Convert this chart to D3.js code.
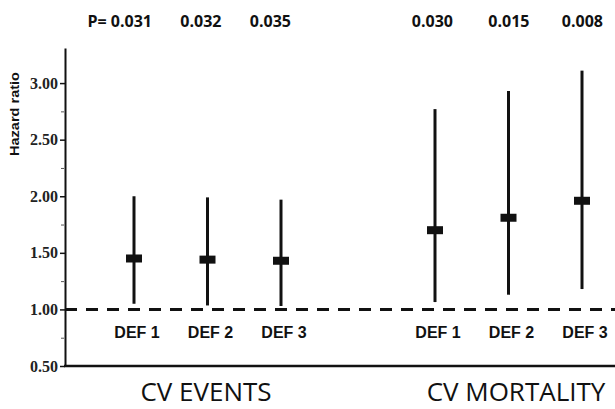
<!DOCTYPE html>
<html>
<head>
<meta charset="utf-8">
<script src="https://cdn.jsdelivr.net/npm/d3@7"></script>
<style>
  html, body { margin: 0; padding: 0; background: #fff; }
  svg { display: block; }
</style>
</head>
<body>
<svg id="chart" width="615" height="409"></svg>
<script>
// ---- data ----
const groups = ["CV EVENTS", "CV MORTALITY"];
const definitions = ["DEF 1", "DEF 2", "DEF 3"];
const hrEvents = [1.45, 1.44, 1.43];
const lowerEvents = [1.05, 1.035, 1.03];
const upperEvents = [2.00, 1.99, 1.97];
const hrMortality = [1.70, 1.81, 1.96];
const lowerMortality = [1.065, 1.13, 1.18];
const upperMortality = [2.77, 2.93, 3.11];
const pEvents = ["P= 0.031", "0.032", "0.035"];
const pMortality = ["0.030", "0.015", "0.008"];
const yTicks = [0.5, 1.0, 1.5, 2.0, 2.5, 3.0];
const yMinorTicks = [0.75, 1.25, 1.75, 2.25, 2.75];
const yAxisTitle = "Hazard ratio";
const referenceHR = 1.0;

// ---- layout ----
const svg = d3.select("#chart");
const W = 615;
const axisX = 65;
const y = d3.scaleLinear().domain([0.5, 3.31]).range([366, 48]);
const xGroup = d3.scalePoint().domain(groups).range([208, 509]);
const xInner = d3.scalePoint().domain(definitions).range([-74, 73]);

const rows = [];
groups.forEach((g, gi) => {
  definitions.forEach((d, di) => {
    rows.push({
      group: g, def: d,
      hr: gi === 0 ? hrEvents[di] : hrMortality[di],
      lo: gi === 0 ? lowerEvents[di] : lowerMortality[di],
      hi: gi === 0 ? upperEvents[di] : upperMortality[di],
      p: gi === 0 ? pEvents[di] : pMortality[di],
      gi, di
    });
  });
});
const xPos = r => xGroup(r.group) + xInner(r.def);

// y axis
const yAxis = d3.axisLeft(y).tickValues(yTicks).tickFormat(d3.format(".2f")).tickSize(5).tickSizeOuter(0);
const gy = svg.append("g").attr("transform", `translate(${axisX},0)`).call(yAxis);
gy.select(".domain").attr("stroke", "#111").attr("stroke-width", 2);
gy.selectAll(".tick line").attr("stroke", "#111").attr("stroke-width", 1.5);
gy.selectAll(".tick text")
  .attr("font-family", "'Liberation Serif', 'Times New Roman', serif")
  .attr("font-weight", "bold")
  .attr("font-size", 16)
  .attr("fill", "#222")
  .attr("x", -7);

const yMinor = d3.axisLeft(y).tickValues(yMinorTicks).tickFormat("").tickSize(3).tickSizeOuter(0);
const gm = svg.append("g").attr("transform", `translate(${axisX - 1},0)`).call(yMinor);
gm.select(".domain").remove();
gm.selectAll(".tick line").attr("stroke", "#555").attr("stroke-width", 1);

// bottom axis line
svg.append("line")
  .attr("x1", axisX - 1).attr("x2", W)
  .attr("y1", y(0.5)).attr("y2", y(0.5))
  .attr("stroke", "#111").attr("stroke-width", 2.5);

// y axis title
svg.append("text")
  .attr("transform", `translate(19,${114}) rotate(-90)`)
  .attr("text-anchor", "middle")
  .attr("font-family", "'Liberation Sans', Arial, sans-serif")
  .attr("font-weight", "bold")
  .attr("font-size", 12)
  .attr("textLength", 84)
  .attr("lengthAdjust", "spacingAndGlyphs")
  .attr("fill", "#111")
  .text(yAxisTitle);

// reference line
svg.append("line")
  .attr("x1", axisX).attr("x2", W)
  .attr("y1", y(referenceHR)).attr("y2", y(referenceHR))
  .attr("stroke", "#111").attr("stroke-width", 3)
  .attr("stroke-dasharray", "12,9");

// error bars
svg.append("g").selectAll("line").data(rows).join("line")
  .attr("x1", xPos).attr("x2", xPos)
  .attr("y1", d => y(d.hi)).attr("y2", d => y(d.lo))
  .attr("stroke", "#111").attr("stroke-width", 3);

// HR markers
svg.append("g").selectAll("rect").data(rows).join("rect")
  .attr("x", d => xPos(d) - 8).attr("y", d => y(d.hr) - 4)
  .attr("width", 16).attr("height", 8)
  .attr("fill", "#111");

// definition labels
svg.append("g").selectAll("text").data(rows).join("text")
  .attr("x", d => xPos(d) + 3)
  .attr("y", 338)
  .attr("text-anchor", "middle")
  .attr("font-family", "'Liberation Sans', Arial, sans-serif")
  .attr("font-weight", "bold")
  .attr("font-size", 16)
  .attr("fill", "#111")
  .text(d => d.def);

// p-values
const pEndOffset = [18, 14, 10, 18, 21, 21];
svg.append("g").selectAll("text").data(rows).join("text")
  .attr("x", (d, i) => xPos(d) + pEndOffset[i])
  .attr("y", 27)
  .attr("text-anchor", "end")
  .attr("font-family", "'Open Sans', sans-serif")
  .attr("font-weight", "bold")
  .attr("font-size", 16)
  .attr("fill", "#111")
  .text(d => d.p);

// group labels
const groupOffset = [-2, 7];
svg.append("g").selectAll("text").data(groups).join("text")
  .attr("x", (g, i) => xGroup(g) + groupOffset[i])
  .attr("y", 401)
  .attr("text-anchor", "middle")
  .attr("font-family", "'Open Sans', sans-serif")
  .attr("font-size", 26)
  .attr("fill", "#111")
  .text(g => g);
</script>
</body>
</html>
